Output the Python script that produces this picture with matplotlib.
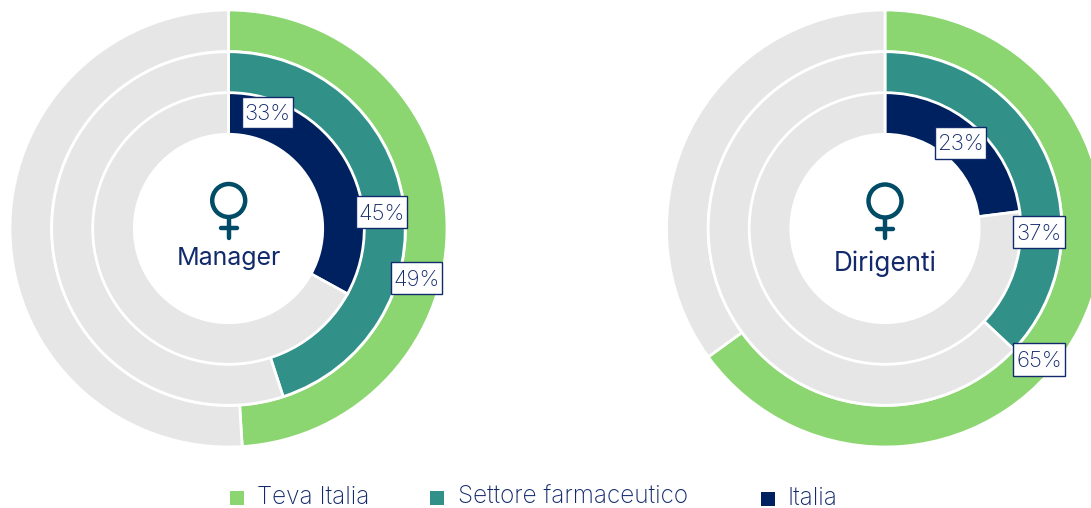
import matplotlib
matplotlib.use("Agg")
import matplotlib.pyplot as plt
from matplotlib.patches import Circle, Rectangle

# =========================
# DATA
# =========================
series = ["Teva Italia", "Settore farmaceutico", "Italia"]
manager_values = [49, 45, 33]
dirigenti_values = [65, 37, 23]

# =========================
# STYLE
# =========================
W, H = 1091, 508
colors = ["#8CD672", "#319188", "#00215F"]
GREY = "#E6E6E6"
TEXT = "#12296B"
ICON = "#004B66"
radii = [218.5, 176.8, 135.8]
RING = 41.6

plt.rcParams["font.family"] = ["Inter", "DejaVu Sans"]

fig = plt.figure(figsize=(W / 100, H / 100), dpi=100)
ax = fig.add_axes([0, 0, 1, 1])


def py(y):
    return H - y


def donut(cx, cy, values):
    for value, color, radius in zip(values, colors, radii):
        ax.pie([value, 100 - value], colors=[color, GREY], radius=radius,
               center=(cx, py(cy)), startangle=90, counterclock=False,
               wedgeprops=dict(width=RING, edgecolor="white", linewidth=2))


def female_icon(cx, cy):
    ax.add_patch(Circle((cx, py(cy)), 16.5, fill=False, edgecolor=ICON, linewidth=3.2))
    ax.plot([cx, cx], [py(cy + 17), py(cy + 37)], color=ICON, lw=3.2,
            solid_capstyle="round")
    ax.plot([cx - 8, cx + 8], [py(cy + 27.5), py(cy + 27.5)], color=ICON, lw=3.2,
            solid_capstyle="round")


def label(x0, y0, x1, y1, value):
    ax.add_patch(Rectangle((x0, py(y1)), x1 - x0, y1 - y0, facecolor="white",
                           edgecolor=TEXT, linewidth=1, zorder=5))
    ax.text((x0 + x1) / 2, py((y0 + y1) / 2 + 1.5), f"{value}%", ha="center", va="center",
            color=TEXT, fontsize=16, fontweight="light", zorder=6)


# =========================
# DONUTS
# =========================
donut(228.5, 228.5, manager_values)
donut(885, 228.5, dirigenti_values)

female_icon(228.7, 200.5)
female_icon(885, 201)

ax.text(228.5, py(258.5), "Manager", ha="center", va="center", color=TEXT, fontsize=18)
ax.text(885, py(263.5), "Dirigenti", ha="center", va="center", color=TEXT, fontsize=18.8)

label(242, 97, 293, 128, manager_values[2])
label(356, 196, 407, 228, manager_values[1])
label(391, 262, 442, 294, manager_values[0])
label(935, 127, 986, 159, dirigenti_values[2])
label(1013, 216, 1065, 248, dirigenti_values[1])
label(1013, 343, 1065, 376, dirigenti_values[0])

# =========================
# LEGEND
# =========================
for name, color, box_x, text_x, y, size in zip(series, colors, [230, 430, 761],
                                               [257, 458, 788], [498, 498, 499],
                                               [17.5, 17.5, 17.5]):
    ax.add_patch(Rectangle((box_x, py(y + 7)), 14, 14, facecolor=color, edgecolor="none"))
    ax.text(text_x, py(y - 0.5), name, ha="left", va="center", color=TEXT, fontsize=size,
            fontweight="light")

ax.set_aspect("auto")
ax.set_xlim(0, W)
ax.set_ylim(0, H)
ax.axis("off")

fig.savefig("out.png", dpi=100, facecolor="white")
